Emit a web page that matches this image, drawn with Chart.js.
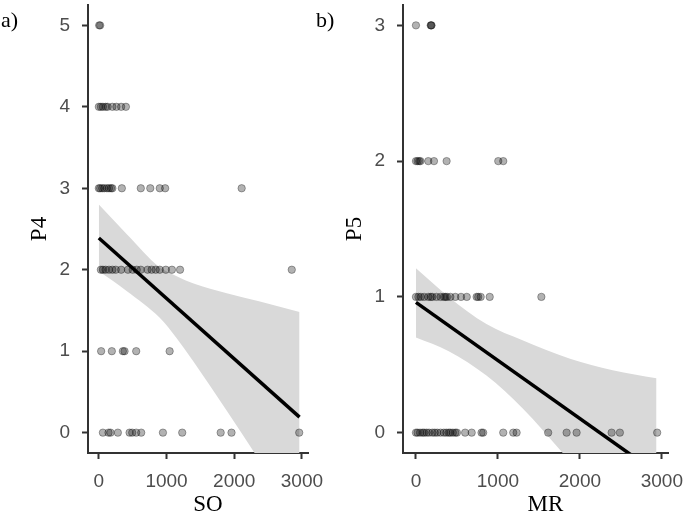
<!DOCTYPE html>
<html>
<head>
<meta charset="utf-8">
<script src="https://cdn.jsdelivr.net/npm/chart.js@4.4.0/dist/chart.umd.min.js"></script>
<style>
  body { margin: 0; background: #fff; }
  #wrap { position: relative; width: 685px; height: 526px; }
  canvas { position: absolute; top: 0; }
</style>
</head>
<body>
<div id="wrap">
  <canvas id="panelA" width="330" height="526" style="left:0"></canvas>
  <canvas id="panelB" width="370" height="526" style="left:315px"></canvas>
</div>
<script>
// panel a) P4 against SO
var soValues = [
  5, 20,
  0, 30, 60, 100, 130, 200, 260, 330, 400,
  0, 20, 50, 80, 120, 150, 180, 200, 340, 620, 760, 900, 980, 2110,
  30, 60, 100, 150, 200, 250, 330, 430, 500, 560, 620, 720, 780, 840, 900, 990, 1080, 1200, 2850,
  34, 192, 355, 380, 552, 1046,
  60, 143, 173, 281, 454, 493, 552, 626, 947, 1232, 1800, 1960, 2960
];
var p4Values = [
  5, 5,
  4, 4, 4, 4, 4, 4, 4, 4, 4,
  3, 3, 3, 3, 3, 3, 3, 3, 3, 3, 3, 3, 3, 3,
  2, 2, 2, 2, 2, 2, 2, 2, 2, 2, 2, 2, 2, 2, 2, 2, 2, 2, 2,
  1, 1, 1, 1, 1, 1,
  0, 0, 0, 0, 0, 0, 0, 0, 0, 0, 0, 0, 0
];
var soFitX = [0, 2965];
var soFitY = [2.39, 0.19];
var soBandX = [0, 410, 900, 1150, 1400, 1890, 2380, 2965];
var soUpper = [2.80, 2.44, 2.03, 1.92, 1.83, 1.71, 1.61, 1.48];
var soLower = [1.98, 1.74, 1.41, 1.16, 0.87, 0.27, -0.35, -1.10];

// panel b) P5 against MR
var mrValues = [
  0, 180, 185, 190,
  0, 20, 40, 55, 150, 220, 374, 1004, 1065,
  0, 30, 60, 100, 150, 180, 200, 250, 300, 340, 360, 380, 420, 480, 550, 620, 740, 760, 790, 900, 1530,
  0, 20, 50, 80, 100, 130, 160, 200, 230, 260, 300, 340, 370, 400, 420, 450, 480, 500,
  600, 680, 800, 820, 1065, 1187, 1228, 1613, 1838, 1960, 2387, 2488, 2943
];
var p5Values = [
  3, 3, 3, 3,
  2, 2, 2, 2, 2, 2, 2, 2, 2,
  1, 1, 1, 1, 1, 1, 1, 1, 1, 1, 1, 1, 1, 1, 1, 1, 1, 1, 1, 1, 1,
  0, 0, 0, 0, 0, 0, 0, 0, 0, 0, 0, 0, 0, 0, 0, 0, 0, 0,
  0, 0, 0, 0, 0, 0, 0, 0, 0, 0, 0, 0, 0
];
var mrFitX = [0, 2943];
var mrFitY = [0.96, -0.30];
var mrBandX = [0, 400, 860, 1300, 1880, 2400, 2935];
var mrUpper = [1.21, 1.00, 0.80, 0.68, 0.545, 0.46, 0.40];
var mrLower = [0.70, 0.60, 0.42, 0.18, -0.21, -0.55, -1.05];

var xTicks = [0, 1000, 2000, 3000];
var p4Ticks = [0, 1, 2, 3, 4, 5];
var p5Ticks = [0, 1, 2, 3];

function pairs(xs, ys) {
  return xs.map(function(x, i) { return { x: x, y: ys[i] }; });
}

var textPlugin = {
  id: 'panelText',
  afterDraw: function(chart, args, opts) {
    var ctx = chart.ctx, a = chart.chartArea;
    ctx.save();
    ctx.fillStyle = '#000';
    ctx.font = '22px "Liberation Serif"';
    ctx.textBaseline = 'middle';
    ctx.textAlign = 'left';
    ctx.fillText(opts.tag, 1, 21);
    ctx.font = '23px "Liberation Serif"';
    ctx.textAlign = 'center';
    ctx.fillText(opts.xTitle, (a.left + a.right) / 2 + 10, 505);
    ctx.translate(40, (a.top + a.bottom) / 2);
    ctx.rotate(-Math.PI / 2);
    ctx.fillText(opts.yTitle, 0, 0);
    ctx.restore();
  }
};

function axis(min, max, ticks, isY) {
  return {
    type: 'linear',
    min: min,
    max: max,
    afterBuildTicks: function(scale) {
      scale.ticks = ticks.map(function(v) { return { value: v }; });
    },
    afterFit: function(scale) {
      if (isY) scale.width = 88; else scale.height = 73;
      scale.paddingTop = 0;
      scale.paddingBottom = 0;
      scale.paddingLeft = 0;
      scale.paddingRight = 0;
    },
    border: { display: true, color: '#333', width: 2 },
    grid: { drawOnChartArea: false, drawTicks: true, tickLength: 6, tickWidth: 2, tickColor: '#333' },
    ticks: {
      color: '#4d4d4d',
      padding: isY ? 12 : 11,
      font: { family: '"Liberation Sans", Arial, sans-serif', size: 19 },
      callback: function(v) { return String(v); }
    }
  };
}

function makePanel(id, o) {
  new Chart(document.getElementById(id), {
    type: 'scatter',
    data: {
      datasets: [
        {
          data: pairs(o.fitX, o.fitY),
          showLine: true, borderColor: '#000', borderWidth: 3.5,
          pointRadius: 0, clip: 0, order: 0
        },
        {
          data: pairs(o.x, o.y),
          backgroundColor: 'rgba(0,0,0,0.3)', borderColor: 'rgba(0,0,0,0.32)',
          borderWidth: 1, pointRadius: 3.7, order: 1
        },
        {
          data: pairs(o.bandX, o.upper),
          showLine: true, borderWidth: 0, borderColor: 'rgba(0,0,0,0)',
          backgroundColor: '#d9d9d9', fill: { target: 3 },
          pointRadius: 0, cubicInterpolationMode: 'monotone', clip: 0, order: 2
        },
        {
          data: pairs(o.bandX, o.lower),
          showLine: true, borderWidth: 0, borderColor: 'rgba(0,0,0,0)',
          pointRadius: 0, cubicInterpolationMode: 'monotone', clip: 0, order: 3
        }
      ]
    },
    options: {
      responsive: false,
      animation: false,
      layout: { padding: { top: 2, right: o.padRight, left: 0, bottom: 0 } },
      plugins: {
        legend: { display: false },
        tooltip: { enabled: false },
        panelText: { tag: o.tag, xTitle: o.xTitle, yTitle: o.yTitle }
      },
      scales: {
        x: axis(o.xMin, o.xMax, xTicks, false),
        y: axis(o.yMin, o.yMax, o.yTicks, true)
      }
    },
    plugins: [textPlugin]
  });
}

makePanel('panelA', {
  tag: 'a)', xTitle: 'SO', yTitle: 'P4',
  x: soValues, y: p4Values, fitX: soFitX, fitY: soFitY,
  bandX: soBandX, upper: soUpper, lower: soLower,
  xMin: -160, xMax: 3090, yMin: -0.25, yMax: 5.25, yTicks: p4Ticks, padRight: 22
});

makePanel('panelB', {
  tag: 'b)', xTitle: 'MR', yTitle: 'P5',
  x: mrValues, y: p5Values, fitX: mrFitX, fitY: mrFitY,
  bandX: mrBandX, upper: mrUpper, lower: mrLower,
  xMin: -158, xMax: 3075, yMin: -0.15, yMax: 3.15, yTicks: p5Ticks, padRight: 17
});
</script>
</body>
</html>
